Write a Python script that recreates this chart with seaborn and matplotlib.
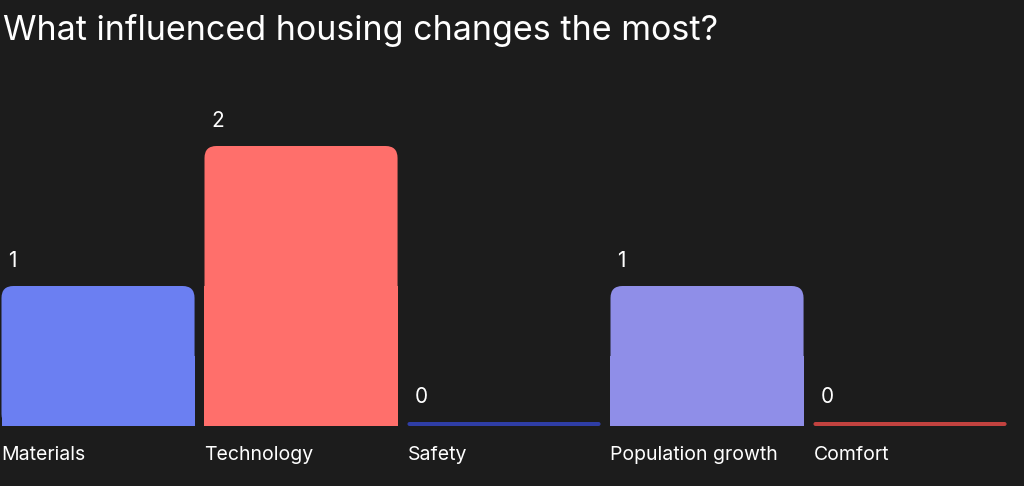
import matplotlib
matplotlib.use("Agg")
import matplotlib.pyplot as plt
import pandas as pd
import seaborn as sns
from matplotlib.patches import FancyBboxPatch, Rectangle

title = "What influenced housing changes the most?"
categories = ["Materials", "Technology", "Safety", "Population growth", "Comfort"]
values = [1, 2, 0, 1, 0]
colors = ["#6b7ff2", "#ff6f6b", "#2f3ea6", "#8f8ee8", "#c2423f"]

bg = "#1c1c1c"
sns.set_theme(style="dark")
plt.rcParams["font.family"] = ["Inter", "DejaVu Sans"]

fig = plt.figure(figsize=(10.24, 4.86), dpi=100, facecolor=bg)
ax = fig.add_axes([0, 0, 1, 1])
ax.set_facecolor(bg)

df = pd.DataFrame({"cat": categories, "val": values})
sns.barplot(data=df, x="cat", y="val", hue="cat", palette=colors, legend=False, ax=ax, width=0.951)

slot_px, unit_px = 203, 140
x_start = -0.951 / 2 - 1.5 / slot_px
ax.set_xlim(x_start, x_start + 1024 / slot_px)
ax.set_ylim(-60 / unit_px, 426 / unit_px)
ax.axis("off")

rx, ry = 12 / slot_px, 12 / unit_px
for p, v, c in zip(list(ax.patches), values, colors):
    x0, w = p.get_x(), p.get_width()
    h = v if v > 0 else 4 / unit_px
    p.remove()
    if v > 0:
        ax.add_patch(FancyBboxPatch((x0, 0), w, h, boxstyle=f"round,pad=0,rounding_size={rx}",
                                    mutation_aspect=ry / rx, fc=c, ec="none"))
        ax.add_patch(Rectangle((x0, 0), w, h / 2, fc=c, ec="none"))
    else:
        ax.add_patch(FancyBboxPatch((x0, 0), w, h, boxstyle=f"round,pad=0,rounding_size={h/2*rx/ry}",
                                    mutation_aspect=ry / rx, fc=c, ec="none"))
    ax.text(x0 + 7 / slot_px, h + 15 / unit_px, str(v), color="white", fontsize=15, ha="left", va="bottom")

# category labels
lefts = [i - 0.951 / 2 for i in range(len(categories))]
for x0, cat in zip(lefts, categories):
    ax.text(x0, -29 / unit_px, cat, color="white", fontsize=14, ha="left", va="center")

fig.text(3 / 1024, 1 - 30 / 486, title, color="white", fontsize=24.5, ha="left", va="center")

fig.savefig("out.png", dpi=100, facecolor=bg)
